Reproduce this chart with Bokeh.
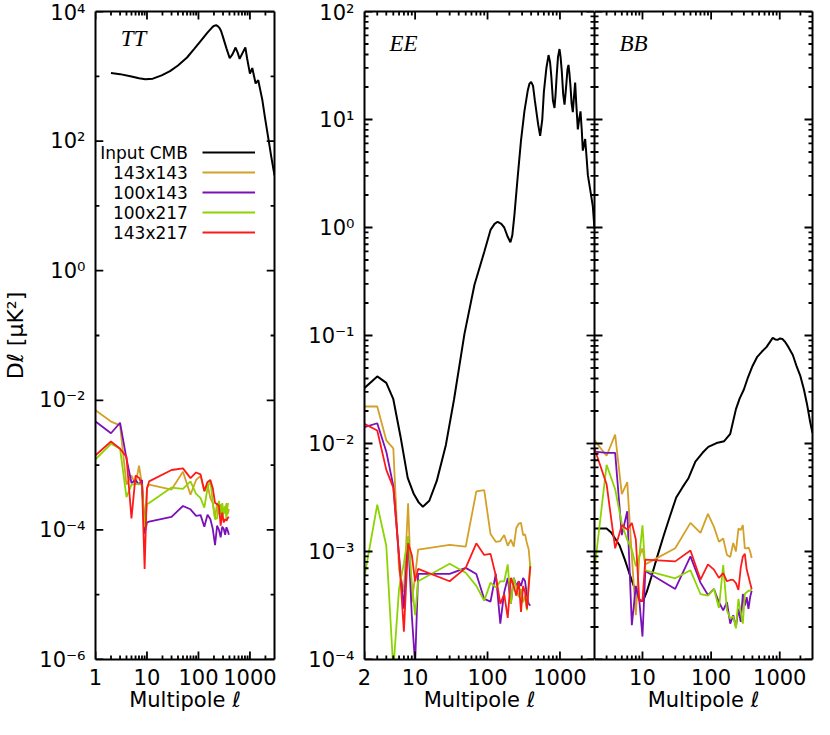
import math
from bokeh.plotting import figure
from bokeh.models import Range1d, LogAxis, FixedTicker, CustomJSTickFormatter, Label
from bokeh.layouts import row
from bokeh.embed import file_html
from bokeh.resources import INLINE

# ---------------- data ----------------
series_names = ["Input CMB", "143x143", "100x143", "100x217", "143x217"]
series_colors = ["black", "#d4a028", "#7a10b8", "#8cd400", "#ff1a1a"]

tt_cmb_ell = [2, 3, 5, 7, 9.3, 13, 19.3, 28, 40, 60, 82, 110, 148, 185, 200, 220, 240, 255, 275, 295,
              350, 405, 460, 526, 580, 630, 720, 815, 880, 1000, 1110, 1290, 1450, 1740, 1960, 2260,
              2600, 3000]
tt_cmb = [1120, 1080, 990, 930, 900, 920, 1035, 1200, 1470, 1950, 2630, 3500, 4680, 5700, 6000, 6150,
          5900, 5600, 5000, 4200, 2700, 1900, 2200, 2780, 2300, 1860, 2300, 2780, 1900, 1100, 1340, 775,
          870, 433, 230, 114, 57, 29.6]

ee_cmb_ell = [2, 3, 4, 5, 6.3, 7.9, 9.6, 11.2, 12.8, 15.7, 19.9, 26.6, 34.5, 48, 66, 90, 110, 125, 138,
              155, 170, 190, 207, 220, 235, 261, 290, 323, 360, 380, 400, 425, 450, 500, 533, 570, 600,
              650, 696, 730, 760, 800, 841, 870, 900, 940, 986, 1020, 1060, 1110, 1157, 1200, 1230, 1270,
              1312, 1350, 1400, 1450, 1506, 1560, 1622, 1680, 1766, 1840, 1923, 2000, 2070, 2150, 2230,
              2330, 2430, 2600, 2845, 3000]
ee_cmb = [0.0327, 0.0418, 0.0364, 0.0257, 0.0115, 0.0048, 0.0034, 0.00285, 0.0026, 0.00295, 0.0045,
          0.0097, 0.0257, 0.1035, 0.295, 0.593, 0.95, 1.08, 1.13, 1.08, 1.0, 0.82, 0.73, 0.85, 1.3, 2.95,
          6.4, 11.9, 18.7, 21.5, 22.3, 20.5, 15.0, 9.0, 7.05, 10.0, 18.0, 30.0, 39.5, 34.0, 25.0, 15.0,
          12.8, 17.0, 25.0, 38.0, 44.9, 38.0, 28.0, 17.0, 13.7, 18.0, 22.0, 29.0, 32.0, 27.0, 20.0, 14.0,
          11.7, 16.0, 22.0, 14.0, 8.1, 10.0, 11.9, 8.0, 5.15, 5.8, 6.6, 4.5, 3.05, 2.3, 1.57, 0.97]

bb_cmb_ell = [2, 3, 3.5, 4.6, 5.5, 6.4, 7.9, 9.2, 10.2, 11.5, 13.4, 16, 20.5, 25, 31, 38, 47, 59, 75, 91,
              120, 155, 190, 230, 260, 300, 340, 400, 470, 550, 640, 790, 860, 930, 1010, 1090, 1200,
              1340, 1550, 1740, 2000, 2250, 2500, 2780, 3000]
bb_cmb = [1.63e-3, 1.63e-3, 1.5e-3, 1.15e-3, 8.5e-4, 6.35e-4, 4.33e-4, 3.5e-4, 3.5e-4, 4.2e-4, 5.75e-4,
          8.5e-4, 1.42e-3, 2.1e-3, 3.16e-3, 3.9e-3, 4.8e-3, 6.8e-3, 8.2e-3, 9.3e-3, 0.0101, 0.0105,
          0.0123, 0.0208, 0.026, 0.0316, 0.040, 0.052, 0.0635, 0.071, 0.078, 0.095, 0.092, 0.0912,
          0.094, 0.093, 0.087, 0.078, 0.066, 0.053, 0.042, 0.0316, 0.023, 0.0157, 0.0125]

ell_tt = [1, 2, 3, 4, 5, 6, 7, 8, 9, 10, 11, 30, 50, 70, 90, 110, 130, 150, 170, 190, 210, 230, 250,
          270, 290, 310, 330, 350, 370, 390]
ell_pol = [2, 3, 4, 5, 6, 7, 8, 9, 10, 11, 30, 50, 70, 90, 110, 130, 150, 170, 190, 210, 230, 250,
           270, 290, 310, 330, 350, 370, 390]

tt_143x143 = [7.0e-3, 4.7e-3, 4.1e-3, 5.0e-4, 6.9e-4, 5.0e-4, 9.8e-4, 5.0e-4, 1.1e-4, 4.4e-4, 5.0e-4,
              4.2e-4, 7.9e-4, 3.5e-4, 5.9e-4, 6.8e-4, 3.9e-4, 5.0e-4, 3.1e-4, 2.6e-4, 1.5e-4, 2.6e-4,
              1.75e-4, 2.5e-4, 1.5e-4, 2.2e-4, 1.85e-4, 2.6e-4, 1.75e-4, 2.1e-4]
tt_100x143 = [4.7e-3, 3.1e-3, 4.5e-3, 1.26e-3, 5.3e-4, 5.9e-4, 5.0e-4, 5.9e-4, 8.7e-5, 1.3e-4, 1.34e-4,
              1.59e-4, 2.34e-4, 2.08e-4, 1.65e-4, 1.69e-4, 1.12e-4, 1.71e-4, 1.47e-4, 1.03e-4, 5.8e-5,
              1.16e-4, 1.0e-4, 7.7e-5, 1.12e-4, 1.03e-4, 8.4e-5, 1.1e-4, 9.8e-5, 8.4e-5]
tt_100x217 = [1.23e-3, 2.13e-3, 1.79e-3, 3.2e-4, 5.0e-4, 5.1e-4, 5.1e-4, 5.0e-4, 1.1e-4, 2.5e-4, 2.6e-4,
              4.5e-4, 4.3e-4, 5.6e-4, 3.6e-4, 3.1e-4, 2.2e-4, 4.4e-4, 5.9e-4, 2.6e-4, 1.47e-4, 1.5e-4,
              2.8e-4, 1.56e-4, 2.6e-4, 1.75e-4, 2.34e-4, 1.47e-4, 2.5e-4, 2.55e-4]
tt_143x217 = [1.42e-3, 2.31e-3, 1.79e-3, 1.34e-3, 1.5e-4, 6.9e-4, 6.4e-4, 5.0e-4, 2.5e-5, 4.4e-4, 5.6e-4,
              8.4e-4, 8.9e-4, 6.3e-4, 7.7e-4, 7.2e-4, 4.0e-4, 5.5e-4, 5.9e-4, 4.4e-4, 2.6e-4, 2.5e-4,
              2.34e-4, 1.16e-4, 1.85e-4, 1.3e-4, 1.47e-4, 1.38e-4, 1.52e-4, 1.59e-4]

ee_143x143 = [0.022, 0.022, 0.0107, 9.0e-3, 6.8e-4, 4.2e-4, 2.8e-3, 3.4e-4, 5.9e-4, 1.04e-3, 1.15e-3,
              1.11e-3, 3.6e-3, 3.7e-3, 1.45e-3, 1.23e-3, 1.25e-3, 1.42e-3, 1.13e-3, 1.29e-3, 1.11e-3,
              1.66e-3, 1.81e-3, 1.84e-3, 1.42e-3, 1.44e-3, 1.19e-3, 1.05e-3, 7.0e-4]
ee_100x143 = [0.0142, 0.0154, 8.4e-3, 4.04e-3, 9.0e-4, 2.95e-4, 1.37e-3, 2.57e-4, 9.0e-5, 6.2e-4, 6.2e-4,
              7.05e-4, 6.2e-4, 3.64e-4, 3.43e-4, 6.2e-4, 2.15e-4, 4.2e-4, 5.7e-4, 3.27e-4, 5.7e-4, 4.8e-4,
              5.3e-4, 4.8e-4, 5.7e-4, 5.3e-4, 3.9e-4, 3.27e-4, 3.16e-4]
ee_100x217 = [5.9e-4, 2.71e-3, 1.13e-3, 8.0e-5, 4.5e-4, 7.8e-4, 1.37e-3, 5.15e-4, 2.57e-4, 5.3e-4, 7.7e-4,
              6.35e-4, 4.8e-4, 3.5e-4, 5.15e-4, 4.65e-4, 5.3e-4, 5.3e-4, 7.6e-4, 3.27e-4, 5.7e-4, 4.65e-4,
              3.77e-4, 4.5e-4, 3.39e-4, 3.9e-4, 2.85e-4, 5.15e-4, 7.8e-4]
ee_143x217 = [0.0152, 0.0132, 5.7e-3, 3.9e-3, 9.0e-4, 1.81e-4, 1.19e-3, 9.3e-4, 5.3e-4, 6.9e-4, 5.3e-4,
              7.05e-4, 1.19e-3, 9.3e-4, 9.5e-4, 6.0e-4, 3.27e-4, 4.04e-4, 2.43e-4, 5.7e-4, 4.8e-4, 3.9e-4,
              5.3e-4, 2.75e-4, 4.8e-4, 4.2e-4, 2.95e-4, 4.65e-4, 7.3e-4]

bb_143x143 = [0.0107, 7.7e-3, 0.0121, 3.4e-3, 4.4e-3, 9.0e-4, 2.57e-4, 9.0e-4, 1.07e-3, 7.6e-4, 1.07e-3,
              1.84e-3, 1.49e-3, 2.23e-3, 1.69e-3, 1.23e-3, 1.32e-3, 9.3e-4, 8.9e-4, 1.2e-3, 1.0e-3,
              1.63e-3, 1.58e-3, 1.76e-3, 1.07e-3, 1.07e-3, 1.09e-3, 1.0e-3, 8.7e-4]
bb_100x143 = [8.4e-3, 8.2e-3, 8.2e-3, 1.42e-3, 2.36e-3, 2.08e-4, 4.8e-4, 3.5e-4, 1.63e-4, 6.6e-4, 4.5e-4,
              9.0e-4, 5.15e-4, 3.95e-4, 4.5e-4, 3.39e-4, 2.85e-4, 3.39e-4, 2.15e-4, 2.57e-4, 2.01e-4,
              2.95e-4, 2.23e-4, 4.04e-4, 3.16e-4, 3.77e-4, 2.95e-4, 3.77e-4, 4.33e-4]
bb_100x217 = [6.8e-4, 6.35e-3, 3.77e-3, 1.81e-3, 1.28e-3, 1.04e-3, 7.3e-4, 9.0e-4, 1.75e-3, 6.7e-4, 5.65e-4,
              6.7e-4, 4.04e-4, 3.9e-4, 4.5e-4, 3.0e-4, 7.5e-4, 2.85e-4, 2.4e-4, 2.5e-4, 1.94e-4, 3.64e-4,
              2.75e-4, 2.15e-4, 4.04e-4, 4.2e-4, 4.33e-4, 4.33e-4, 4.5e-4]
bb_143x217 = [9.0e-3, 4.2e-3, 1.07e-3, 1.75e-3, 1.6e-3, 1.84e-3, 1.29e-3, 3.5e-4, 3.5e-4, 8.4e-4, 8.1e-4,
              1.02e-3, 5.5e-4, 7.6e-4, 6.8e-4, 5.7e-4, 6.3e-4, 5.3e-4, 5.45e-4, 5.45e-4, 5.1e-4, 4.4e-4,
              7.05e-4, 9.0e-4, 9.5e-4, 6.8e-4, 5.9e-4, 5.1e-4, 4.5e-4]

tt_x_range = (1, 3000)
tt_y_range = (1e-6, 1e4)
pol_x_range = (2, 3000)
pol_y_range = (1e-4, 1e2)

tt_x_ticks = [1, 10, 100, 1000]
tt_y_ticks = [1e-6, 1e-4, 1e-2, 1, 1e2, 1e4]
tt_y_minor = [1e-5, 1e-3, 1e-1, 10, 1e3]
ee_x_ticks = [2, 10, 100, 1000]
bb_x_ticks = [10, 100, 1000]
pol_y_ticks = [1e-4, 1e-3, 1e-2, 1e-1, 1, 10, 100]

y_title = "D\u2113 [\u03bcK\u00b2]"
x_title = "Multipole \u2113"

# ---------------- layout ----------------
SANS = "DejaVu Sans"
SERIF = "Liberation Serif"
H = 719
TOP = 11
BOTTOM = 60
FH = H - TOP - BOTTOM
MAJ, MIN = 8, 4

POW_JS = r"""
const e = Math.round(Math.log10(tick));
const sup = {"-": "\u207b", "0": "\u2070", "1": "\u00b9", "2": "\u00b2", "3": "\u00b3",
             "4": "\u2074", "5": "\u2075", "6": "\u2076", "7": "\u2077", "8": "\u2078", "9": "\u2079"};
let s = "";
for (const c of String(e)) { s += sup[c]; }
return "10" + s;
"""
INT_JS = "return String(Math.round(tick));"
NONE_JS = "return '';"


def minor_log(lo_exp, hi_exp):
    return [m * 10 ** e for e in range(lo_exp, hi_exp + 1) for m in range(2, 10)]


def style_axis(ax, ticks, minor, fmt_js, labels):
    ax.ticker = FixedTicker(ticks=list(ticks), minor_ticks=list(minor))
    ax.formatter = CustomJSTickFormatter(code=fmt_js if labels else NONE_JS)
    ax.axis_line_width = 2
    ax.axis_line_color = "black"
    ax.major_tick_in = 0
    ax.major_tick_out = 0
    ax.minor_tick_in = 0
    ax.minor_tick_out = 0
    ax.major_label_text_font = SANS
    ax.major_label_text_color = "black"
    if labels:
        ax.major_label_text_font_size = "21px"
    else:
        ax.major_label_text_font_size = "1px"
        ax.major_label_standoff = 0


def make_fig(width, left, right, xr, yr, xt, xminor, yt, yminor, ylabels):
    p = figure(width=width, height=H, x_axis_type="log", y_axis_type="log",
               x_range=Range1d(*xr), y_range=Range1d(*yr),
               output_backend="svg", toolbar_location=None,
               min_border_left=left, min_border_right=right,
               min_border_top=TOP, min_border_bottom=BOTTOM)
    p.outline_line_color = None
    p.xgrid.visible = False
    p.ygrid.visible = False
    p.background_fill_color = "white"
    p.border_fill_color = "white"
    xa = p.xaxis[0]
    style_axis(xa, xt, xminor, INT_JS, True)
    xa.major_label_standoff = 9
    xa.axis_label = x_title
    xa.axis_label_text_font = SANS
    xa.axis_label_text_font_size = "21px"
    xa.axis_label_text_font_style = "normal"
    xa.axis_label_text_color = "black"
    xa.axis_label_standoff = 0
    ya = p.yaxis[0]
    style_axis(ya, yt, yminor, POW_JS, ylabels)
    if ylabels:
        ya.major_label_standoff = 10
    top = LogAxis()
    style_axis(top, xt, xminor, INT_JS, False)
    p.add_layout(top, "above")
    rgt = LogAxis()
    style_axis(rgt, yt, yminor, POW_JS, False)
    p.add_layout(rgt, "right")
    return p


x_minor_tt = minor_log(0, 2) + [2000]
x_minor_pol = [3, 4, 5, 6, 7, 8, 9] + minor_log(1, 2) + [2000]
y_minor_pol = minor_log(-4, 1)

W1, L1, R1 = 294, 90, 20
W2, L2, R2 = 300, 70, 0
W3, L3, R3 = 220, 0, 2

p1 = make_fig(W1, L1, R1, tt_x_range, tt_y_range, tt_x_ticks, x_minor_tt, tt_y_ticks, tt_y_minor, True)
p2 = make_fig(W2, L2, R2, pol_x_range, pol_y_range, ee_x_ticks, x_minor_pol, pol_y_ticks, y_minor_pol, True)
p3 = make_fig(W3, L3, R3, pol_x_range, pol_y_range, bb_x_ticks, x_minor_pol, pol_y_ticks, y_minor_pol, False)

ya1 = p1.yaxis[0]
ya1.axis_label = y_title
ya1.axis_label_text_font = SANS
ya1.axis_label_text_font_size = "22px"
ya1.axis_label_text_font_style = "normal"
ya1.axis_label_text_color = "black"
ya1.axis_label_standoff = 8

F1_LEFT, F1_W = L1, W1 - L1 - R1
F2_LEFT, F2_W = W1 + L2, W2 - L2 - R2
F3_LEFT, F3_W = W1 + W2 + L3, W3 - L3 - R3


def fx(px, left, w, xr):
    a, b = math.log10(xr[0]), math.log10(xr[1])
    return 10 ** (a + (px - left) / w * (b - a))


def fy(py, yr):
    a, b = math.log10(yr[0]), math.log10(yr[1])
    return 10 ** (b - (py - TOP) / FH * (b - a))


# ---------------- curves ----------------
noise_tt = [tt_143x143, tt_100x143, tt_100x217, tt_143x217]
noise_ee = [ee_143x143, ee_100x143, ee_100x217, ee_143x217]
noise_bb = [bb_143x143, bb_100x143, bb_100x217, bb_143x217]

p1.line(tt_cmb_ell, tt_cmb, line_color="black", line_width=2)
p2.line(ee_cmb_ell, ee_cmb, line_color="black", line_width=2)
p3.line(bb_cmb_ell, bb_cmb, line_color="black", line_width=2)
for vals, c in zip(noise_tt, series_colors[1:]):
    p1.line(ell_tt, vals, line_color=c, line_width=1.8)
for vals, c in zip(noise_ee, series_colors[1:]):
    p2.line(ell_pol, vals, line_color=c, line_width=1.8)
for vals, c in zip(noise_bb, series_colors[1:]):
    p3.line(ell_pol, vals, line_color=c, line_width=1.8)

# ---------------- inward tick marks (drawn like the legend keys, one segment each) ----------------
for p, left, w, xr, yr, xt, xminor, yt, yminor in [
        (p1, F1_LEFT, F1_W, tt_x_range, tt_y_range, tt_x_ticks, x_minor_tt, tt_y_ticks, tt_y_minor),
        (p2, F2_LEFT, F2_W, pol_x_range, pol_y_range, ee_x_ticks, x_minor_pol, pol_y_ticks, y_minor_pol),
        (p3, F3_LEFT, F3_W, pol_x_range, pol_y_range, bb_x_ticks, x_minor_pol, pol_y_ticks, y_minor_pol)]:
    y_bot0, y_top0 = fy(TOP + FH - 0.5, yr), fy(TOP + 0.5, yr)
    y_bot_maj, y_bot_min = fy(TOP + FH - MAJ, yr), fy(TOP + FH - MIN, yr)
    y_top_maj, y_top_min = fy(TOP + MAJ, yr), fy(TOP + MIN, yr)
    x_l0, x_r0 = fx(left + 0.5, left, w, xr), fx(left + w - 0.5, left, w, xr)
    x_l_maj, x_l_min = fx(left + MAJ, left, w, xr), fx(left + MIN, left, w, xr)
    x_r_maj, x_r_min = fx(left + w - MAJ, left, w, xr), fx(left + w - MIN, left, w, xr)
    for v in xt:
        p.segment(x0=[v], y0=[y_bot0], x1=[v], y1=[y_bot_maj], line_color="black", line_width=1.8)
        p.segment(x0=[v], y0=[y_top0], x1=[v], y1=[y_top_maj], line_color="black", line_width=1.8)
    for v in xminor:
        p.segment(x0=[v], y0=[y_bot0], x1=[v], y1=[y_bot_min], line_color="black", line_width=1.8)
        p.segment(x0=[v], y0=[y_top0], x1=[v], y1=[y_top_min], line_color="black", line_width=1.8)
    for v in yt:
        p.segment(x0=[x_l0], y0=[v], x1=[x_l_maj], y1=[v], line_color="black", line_width=1.8)
        p.segment(x0=[x_r0], y0=[v], x1=[x_r_maj], y1=[v], line_color="black", line_width=1.8)
    for v in yminor:
        p.segment(x0=[x_l0], y0=[v], x1=[x_l_min], y1=[v], line_color="black", line_width=1.8)
        p.segment(x0=[x_r0], y0=[v], x1=[x_r_min], y1=[v], line_color="black", line_width=1.8)

# ---------------- panel names ----------------
for p, name, px, py, left, w, xr, yr in [
        (p1, "TT", F1_LEFT + 26, 38, F1_LEFT, F1_W, tt_x_range, tt_y_range),
        (p2, "EE", F2_LEFT + 25, 43, F2_LEFT, F2_W, pol_x_range, pol_y_range),
        (p3, "BB", F3_LEFT + 25, 43, F3_LEFT, F3_W, pol_x_range, pol_y_range)]:
    p.add_layout(Label(x=fx(px, left, w, xr), y=fy(py, yr), text=name, text_font=SERIF,
                       text_font_style="italic", text_font_size="23px", text_color="black",
                       text_align="left", text_baseline="alphabetic"))

# ---------------- legend (text then line sample) ----------------
for i, (nm, c) in enumerate(zip(series_names, series_colors)):
    py = 152 + 20 * i
    yv = fy(py, tt_y_range)
    p1.add_layout(Label(x=fx(F1_LEFT + 95, F1_LEFT, F1_W, tt_x_range), y=yv, text=nm,
                        text_font=SANS, text_font_size="17px", text_color="black",
                        text_align="right", text_baseline="middle"))
    p1.segment(x0=[fx(F1_LEFT + 110, F1_LEFT, F1_W, tt_x_range)], y0=[yv],
               x1=[fx(F1_LEFT + 164, F1_LEFT, F1_W, tt_x_range)], y1=[yv], line_color=c, line_width=2)

layout = row(p1, p2, p3, spacing=0)
with open("out.html", "w", encoding="utf-8") as f:
    f.write(file_html(layout, INLINE))
